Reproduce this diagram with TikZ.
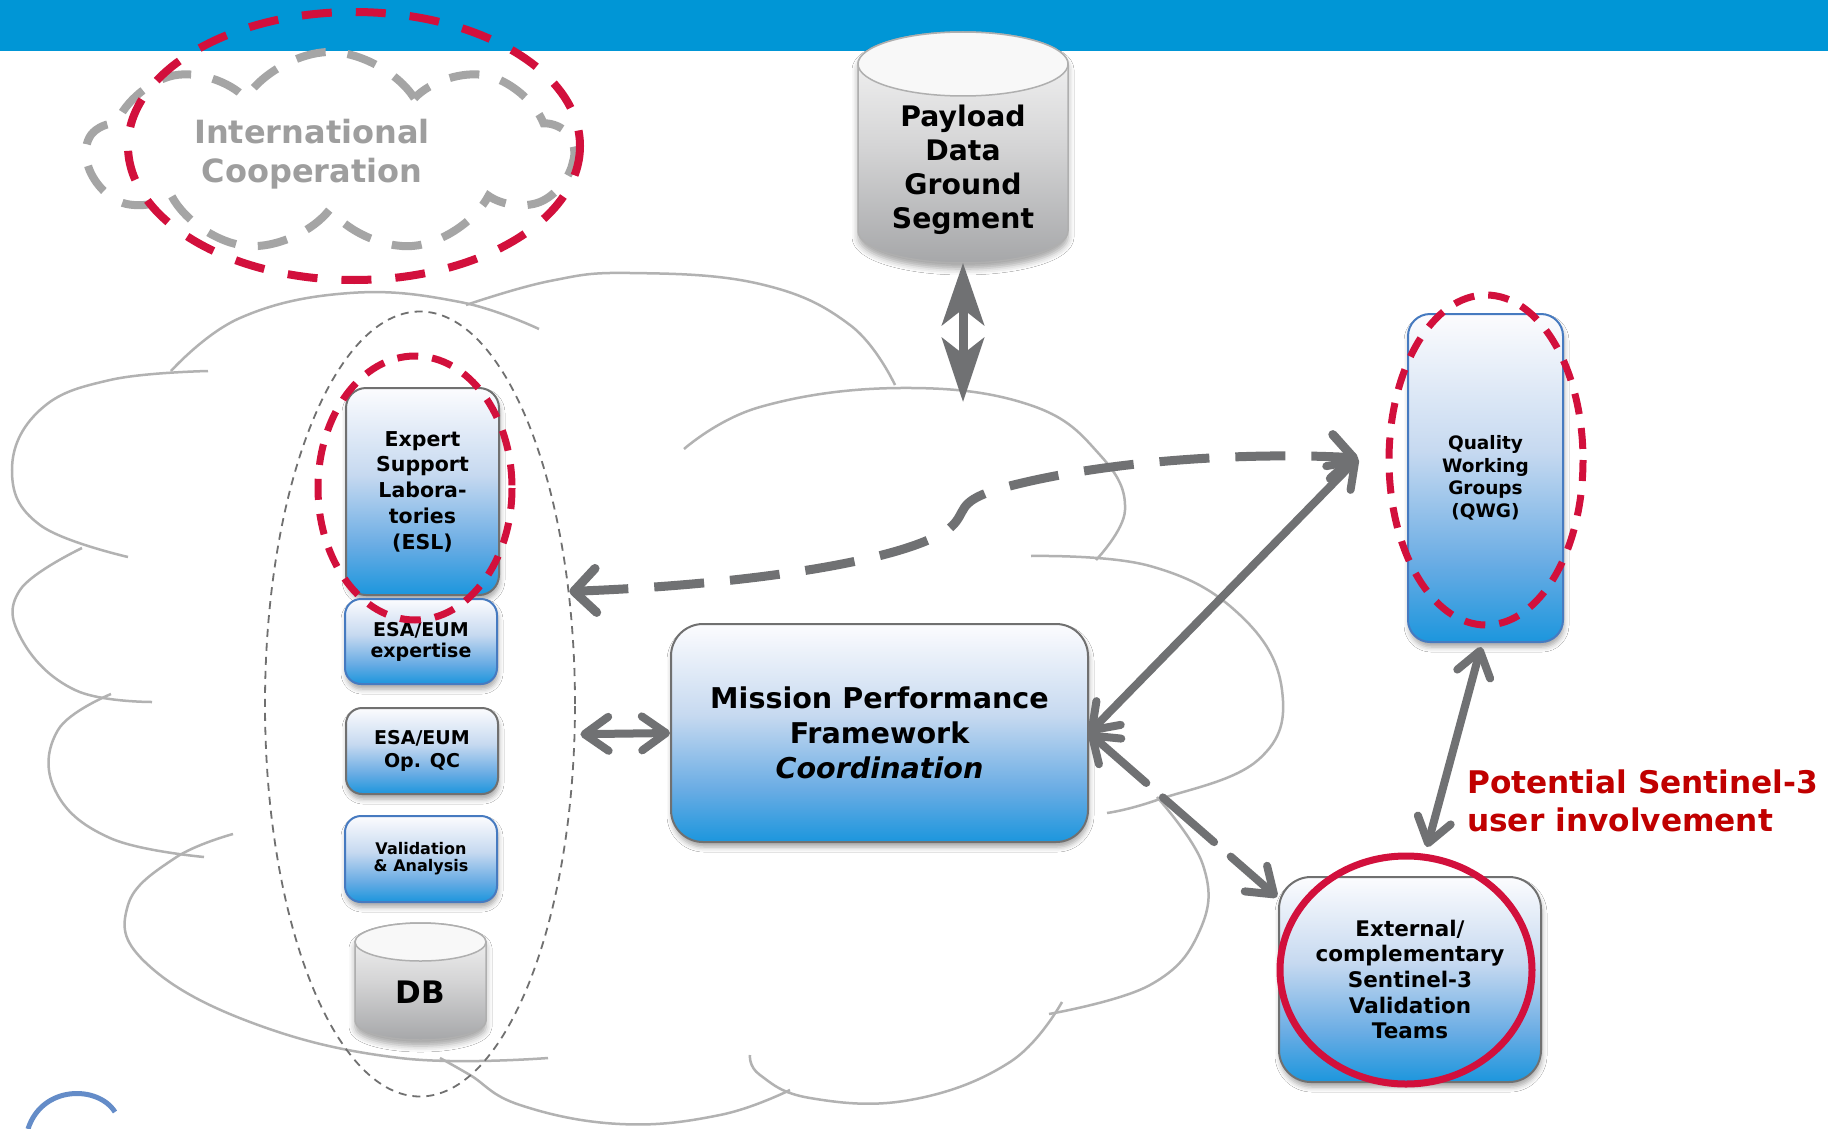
\documentclass[tikz,border=0pt]{standalone}
\usepackage{fontspec}
\setmainfont{DejaVu Sans}
\usetikzlibrary{arrows.meta,shapes.symbols,shapes.geometric,shadows.blur}
\definecolor{barblue}{RGB}{0,150,214}
\definecolor{redc}{RGB}{210,16,60}
\definecolor{redtxt}{RGB}{192,0,0}
\definecolor{arrowgray}{RGB}{112,113,115}
\definecolor{cloudgray}{RGB}{178,178,178}
\definecolor{intlgray}{RGB}{165,165,165}
\definecolor{intltext}{RGB}{158,158,158}
\definecolor{boxedge}{RGB}{112,112,112}
\definecolor{blueedge}{RGB}{70,122,192}
\definecolor{cylgray}{RGB}{175,175,175}
\definecolor{logoblue}{RGB}{100,140,200}
\definecolor{bxa}{RGB}{28,150,221}
\definecolor{bxb}{RGB}{105,172,228}
\definecolor{bxc}{RGB}{198,217,240}
\definecolor{bxd}{RGB}{252,252,254}
\definecolor{cya}{RGB}{166,167,169}
\definecolor{cyb}{RGB}{212,212,213}
\definecolor{cyc}{RGB}{248,248,248}
\pgfdeclareverticalshading{bluebox}{100bp}{color(0bp)=(bxa); color(25bp)=(bxa); color(37bp)=(bxb); color(54bp)=(bxc); color(75bp)=(bxd); color(100bp)=(bxd)}
\pgfdeclareverticalshading{graycyl}{100bp}{color(0bp)=(cya); color(25bp)=(cya); color(50bp)=(cyb); color(75bp)=(cyc); color(100bp)=(cyc)}
\tikzset{
  bbox/.style={rectangle, rounded corners=#1, shade, shading=bluebox, line width=2pt, align=center, inner sep=0pt, text=black,
    blur shadow={shadow xshift=1pt, shadow yshift=-5pt, shadow blur radius=5pt, shadow opacity=35}},
  bbox/.default=20pt,
  arr/.style={draw=arrowgray, line width=8pt, line cap=round},
  barbs/.style={arr, {Straight Barb[length=24pt,width=34pt,round]}-{Straight Barb[length=24pt,width=34pt,round]}},
  lobe/.style={draw=cloudgray, line width=2.5pt},
  reddash/.style={draw=redc, line width=7pt, dash pattern=on 21pt off 14pt},
  cylshadow/.style={blur shadow={shadow xshift=0pt, shadow yshift=-6pt, shadow blur radius=6pt, shadow opacity=35}},
}
\begin{document}
\begin{tikzpicture}[x=1pt,y=-1pt]
\useasboundingbox (0,0) rectangle (1828,1129);
\fill[white] (0,0) rectangle (1828,1129);
\fill[barblue] (0,0) rectangle (1828,51);

% big cloud lobes
\draw[lobe] plot[smooth,tension=0.7] coordinates {(171,371) (240,318) (350,293) (460,302) (539,329)};
\draw[lobe] plot[smooth,tension=0.7] coordinates {(466,305) (550,281) (630,273) (760,284) (850,325) (895,385)};
\draw[lobe] plot[smooth,tension=0.7] coordinates {(684,449) (760,407) (900,388) (1030,405) (1100,455) (1125,510) (1096,560)};
\draw[lobe] plot[smooth,tension=0.7] coordinates {(1031,556) (1150,566) (1240,615) (1282,690) (1258,760) (1157,800) (1107,813)};
\draw[lobe] plot[smooth,tension=0.7] coordinates {(1157,797) (1203,865) (1200,930) (1150,985) (1049,1014)};
\draw[lobe] plot[smooth,tension=0.7] coordinates {(1062,1002) (1010,1062) (910,1100) (810,1098) (760,1075) (750,1055)};
\draw[lobe] plot[smooth,tension=0.7] coordinates {(790,1090) (720,1115) (620,1124) (520,1105) (470,1075) (440,1058)};
\draw[lobe] plot[smooth,tension=0.7] coordinates {(548,1058) (400,1058) (250,1022) (145,962) (128,905) (175,858) (233,834)};
\draw[lobe] plot[smooth,tension=0.7] coordinates {(204,857) (110,838) (55,790) (58,730) (111,694)};
\draw[lobe] plot[smooth,tension=0.7] coordinates {(152,702) (75,690) (22,640) (20,590) (82,548)};
\draw[lobe] plot[smooth,tension=0.7] coordinates {(128,557) (40,525) (12,470) (40,410) (110,380) (208,371)};

% International cooperation
\node[cloud, cloud puffs=9, cloud puff arc=115, cloud ignores aspect, minimum width=485pt, minimum height=200pt,
  draw=intlgray, line width=8pt, dash pattern=on 30pt off 22pt, inner sep=0pt] (intlcloud) at (330,152) {};
\node[text=intltext, align=center, font=\fontsize{32}{38.5}\selectfont\bfseries] (intl) at (312,154) {International\\Cooperation};
\draw[redc, line width=8pt, dash pattern=on 30pt off 24pt] (354,146) ellipse [x radius=226, y radius=134];

% Payload Data Ground Segment cylinder
\path[cylshadow, shade, shading=graycyl, draw=cylgray, line width=1.5pt]
  (858,64) -- (858,231) arc[start angle=180, end angle=0, x radius=105, y radius=32]
  -- (1068,64) arc[start angle=0, end angle=-180, x radius=105, y radius=32] -- cycle;
\draw[cylgray, line width=1.5pt, fill=cyc] (963,64) ellipse [x radius=105, y radius=32];
\node[align=center, font=\fontsize{28.3}{34}\selectfont\bfseries] (pdgs) at (963,170) {Payload\\Data\\Ground\\Segment};
\coordinate (pdb) at (963,263);
\coordinate (cltop) at (963,402);

% ESL column
\node[ellipse, draw=boxedge, line width=1.8pt, dash pattern=on 8pt off 6pt, minimum width=310pt, minimum height=785pt, inner sep=0pt] (col) at (420,704) {};
\node[bbox=20pt, draw=boxedge, minimum width=153pt, minimum height=207pt, font=\fontsize{20.5}{25.7}\selectfont\bfseries] (esl) at (422.5,491.5) {\raisebox{-6pt}{\parbox{140pt}{\centering Expert\\Support\\Labora-\\tories\\(ESL)}}};
\node[bbox=16pt, draw=blueedge, minimum width=152pt, minimum height=85pt, font=\fontsize{19}{21}\selectfont\bfseries] (exp) at (421,641.5) {ESA/EUM\\expertise};
\node[bbox=16pt, draw=boxedge, minimum width=152pt, minimum height=86pt, font=\fontsize{19}{23}\selectfont\bfseries] (opqc) at (422,751) {ESA/EUM\\Op. QC};
\node[bbox=16pt, draw=blueedge, minimum width=152pt, minimum height=86pt, font=\fontsize{16}{17}\selectfont\bfseries] (val) at (421,859) {Validation\\\& Analysis};
\path[cylshadow, shade, shading=graycyl, draw=cylgray, line width=1.5pt]
  (355,942) -- (355,1021) arc[start angle=180, end angle=0, x radius=65.5, y radius=19]
  -- (486,942) arc[start angle=0, end angle=-180, x radius=65.5, y radius=19] -- cycle;
\draw[cylgray, line width=1.5pt, fill=cyc] (420.5,942) ellipse [x radius=65.5, y radius=19];
\node[font=\fontsize{31}{31}\selectfont\bfseries] (db) at (420.5,992) {DB};
\draw[reddash] (415,488) ellipse [x radius=97, y radius=132];

% Mission Performance Framework
\node[bbox=32pt, draw=boxedge, minimum width=417pt, minimum height=218pt, font=\fontsize{28.6}{35}\selectfont\bfseries] (mpf) at (879.5,733) {\raisebox{-4pt}{\parbox{400pt}{\centering Mission Performance\\Framework\\\textit{Coordination}}}};

% QWG
\node[bbox=22pt, draw=blueedge, minimum width=155pt, minimum height=328pt, font=\fontsize{18.5}{22.5}\selectfont\bfseries] (qwg) at (1485.5,478) {\raisebox{-14pt}{\parbox{140pt}{\centering Quality\\Working\\Groups\\(QWG)}}};
\draw[reddash] (1486,460) ellipse [x radius=97, y radius=165];

% External teams
\node[bbox=32pt, draw=boxedge, minimum width=262pt, minimum height=205pt, font=\fontsize{21.5}{25.7}\selectfont\bfseries] (ext) at (1410,979.5) {\raisebox{-4pt}{\parbox{250pt}{\centering External/\\complementary\\Sentinel-3\\Validation\\Teams}}};
\draw[redc, line width=7pt] (1406,970) ellipse [x radius=126, y radius=114];

\node[anchor=west, align=left, inner sep=0pt, text=redtxt, font=\fontsize{31.2}{37.5}\selectfont\bfseries] (pot) at (1467,801) {Potential Sentinel-3\\user involvement};

% connectors
\coordinate (qtip) at (1358,458);
\coordinate (etip) at (1277,897);
\coordinate (qbot) at (1481,647);
\coordinate (etop) at (1427,847);
\draw[draw=arrowgray, line width=9pt, {Stealth[length=62pt,width=42pt,inset=16pt]}-{Stealth[length=64pt,width=42pt,inset=16pt]}] (pdb) -- (cltop);
\draw[arrowgray, line width=9pt, dash pattern=on 50pt off 26pt,
  {Straight Barb[length=22pt,width=44pt,round]}-{Straight Barb[length=22pt,width=44pt,round]}]
  (col.37.6) .. controls (740,585) and (905,562) .. (950,528) .. controls (968,512) and (955,503) .. (995,490) .. controls (1100,460) and (1250,452) .. (qtip);
\draw[barbs] (mpf.east) -- (qtip);
\draw[barbs, dash pattern=on 68pt off 22pt] (mpf.east) -- (etip);
\draw[barbs] ([xshift=5pt]col.-11) -- (mpf.west);
\draw[barbs] (qbot) -- (etop);

% logo fragment
\draw[logoblue, line width=5pt] (28,1129) .. controls (42,1085) and (98,1085) .. (115,1112);
\end{tikzpicture}
\end{document}
